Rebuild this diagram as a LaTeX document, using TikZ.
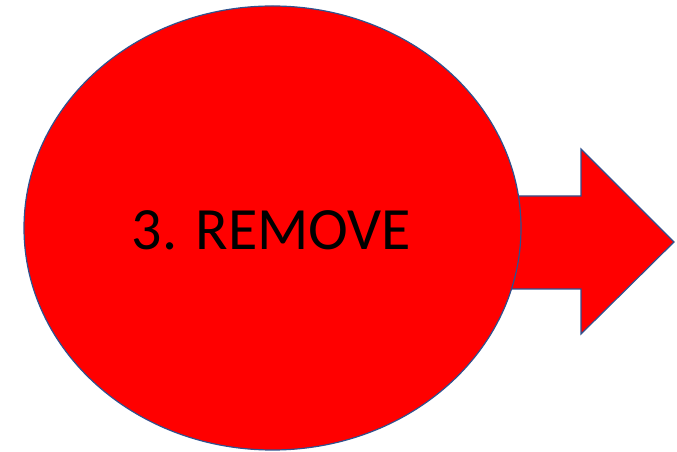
\documentclass[tikz,border=0pt]{standalone}
\usepackage{fontspec}
\setmainfont{Carlito}
\usetikzlibrary{shapes.geometric}

\definecolor{stepred}{RGB}{255,0,0}
\definecolor{stepline}{RGB}{47,82,143}

\begin{document}
\begin{tikzpicture}[x=1pt, y=1pt,
    shapeline/.style={draw=stepline, line width=1.2pt, fill=stepred, line join=miter}]

    % Canvas
    \useasboundingbox (0,0) rectangle (677,452);

    % Arrow
    \draw[shapeline]
        (440,256) -- (581,256) -- (581,303) -- (674,210)
        -- (581,118) -- (581,163) -- (440,163) -- cycle;

    % Ellipse
    \node[shapeline, ellipse, minimum width=497pt, minimum height=444pt,
        inner sep=0pt, font=\fontsize{60}{60}\selectfont] (remove)
        at (272.5,224) {};
    \node[font=\fontsize{60}{60}\selectfont, anchor=base, inner sep=0pt] (label)
        at (271.5,202) {3. REMOVE};

\end{tikzpicture}
\end{document}
